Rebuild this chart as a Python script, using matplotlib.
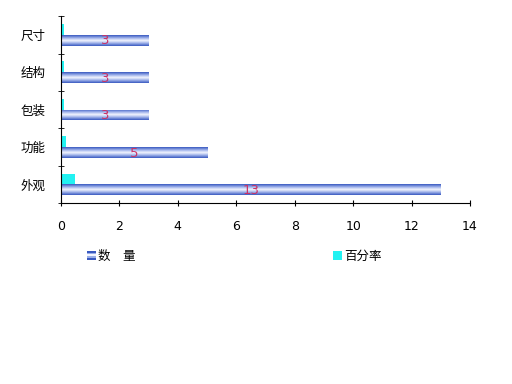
import matplotlib
matplotlib.use("Agg")
import matplotlib.pyplot as plt
import numpy as np
from matplotlib.colors import LinearSegmentedColormap
from matplotlib.patches import Rectangle
from matplotlib.legend_handler import HandlerBase

plt.rcParams['font.family'] = ['Noto Sans CJK SC', 'DejaVu Sans']

categories = ['外观', '功能', '包装', '结构', '尺寸']
counts = [13, 5, 3, 3, 3]
percents = [0.48, 0.185, 0.11, 0.11, 0.11]
count_label = '数　量'
percent_label = '百分率'
xticks = [0, 2, 4, 6, 8, 10, 12, 14]

cmap = LinearSegmentedColormap.from_list(
    'cyl', ['#3858c0', '#9aaee8', '#f4f6ff', '#9aaee8', '#3858c0'])
cyan = '#22f2f2'
label_color = '#cc3366'

fig = plt.figure(figsize=(5.12, 3.84), dpi=100)
ax = fig.add_axes([0.119, 0.471, 0.799, 0.487])

y = np.arange(len(categories))
h = 0.29
ax.barh(y + 0.145, percents, height=h, color=cyan, zorder=2)
bars = ax.barh(y - 0.145, counts, height=h, color='none', zorder=2)
grad = np.linspace(0, 1, 64).reshape(-1, 1)
for b in bars:
    x0, y0 = b.get_x(), b.get_y()
    im = ax.imshow(grad, cmap=cmap, aspect='auto', interpolation='bilinear',
                   extent=(x0, x0 + b.get_width(), y0, y0 + b.get_height()),
                   zorder=2)
    im.set_clip_path(b)
for yi, c in zip(y, counts):
    ax.text(c / 2, yi - 0.16, str(c), ha='center', va='center',
            color=label_color, fontsize=9.5, zorder=3, family='DejaVu Sans')

ax.set_xlim(0, 14)
ax.set_ylim(-0.5, len(categories) - 0.5)
ax.set_xticks(xticks)
ax.set_xticklabels([str(t) for t in xticks], fontsize=9, family='DejaVu Sans')
ax.set_yticks(y)
ax.set_yticklabels(categories, fontsize=9)
ax.set_yticks(np.arange(-0.5, len(categories)), minor=True)
ax.tick_params(axis='y', which='major', length=0, pad=11)
ax.tick_params(axis='y', which='minor', length=4, direction='inout')
ax.tick_params(axis='x', length=4, direction='inout', pad=10)
for s in ['top', 'right']:
    ax.spines[s].set_visible(False)
ax.set_aspect('auto')


class GradHandler(HandlerBase):
    def create_artists(self, legend, orig_handle, xdescent, ydescent,
                       width, height, fontsize, trans):
        arts = []
        n = 5
        cols = [cmap(v) for v in np.linspace(0, 1, n)]
        w = height
        x0 = width - w
        for i, c in enumerate(cols):
            r = Rectangle((x0 - xdescent, -ydescent + height * i / n), w,
                          height / n, facecolor=c, edgecolor='none',
                          transform=trans)
            arts.append(r)
        return arts


class SquareHandler(HandlerBase):
    def create_artists(self, legend, orig_handle, xdescent, ydescent,
                       width, height, fontsize, trans):
        w = height
        r = Rectangle((width - w - xdescent, -ydescent), w, height,
                      facecolor=cyan, edgecolor='none', transform=trans)
        return [r]


h1 = Rectangle((0, 0), 1, 1)
h2 = Rectangle((0, 0), 1, 1, facecolor=cyan)
fig.legend([h1, h2], [count_label, percent_label],
           handler_map={h1: GradHandler(), h2: SquareHandler()},
           loc='center', bbox_to_anchor=(0.457, 0.333), ncol=2,
           frameon=False, fontsize=9, handlelength=0.8, handletextpad=0.2,
           columnspacing=15.7)

fig.savefig('out.png', dpi=100)
